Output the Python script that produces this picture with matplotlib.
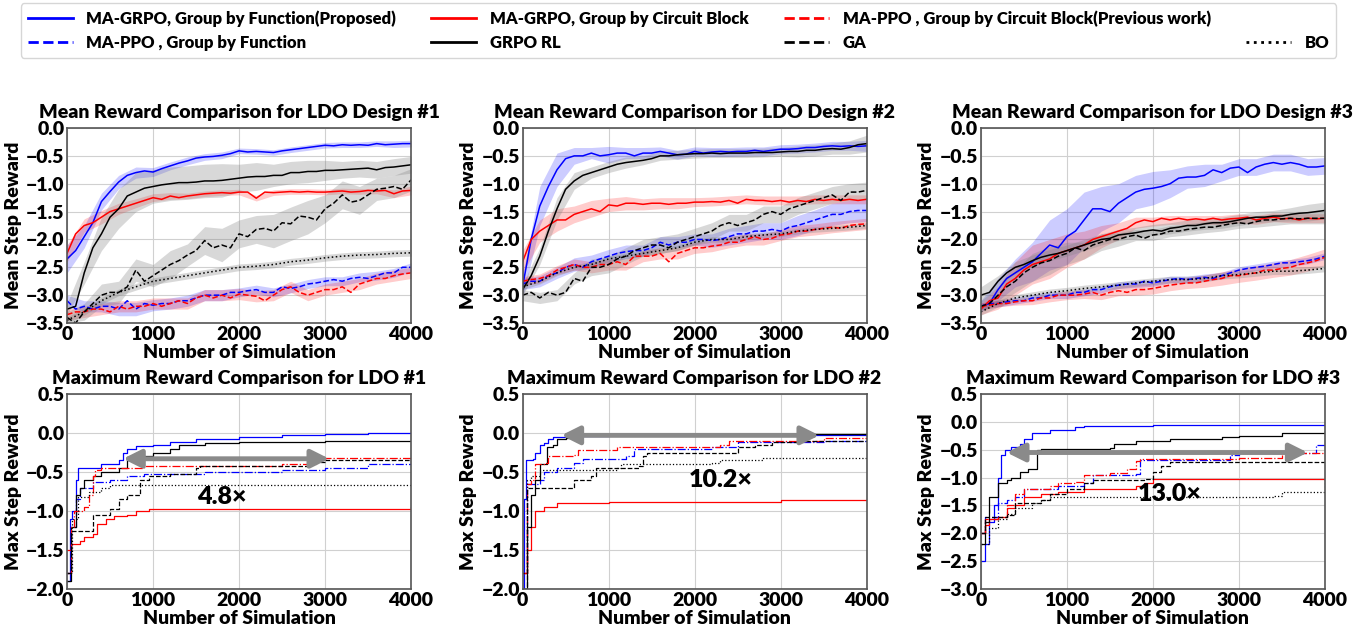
import matplotlib
matplotlib.use("Agg")
from matplotlib import pyplot as plt
from matplotlib.lines import Line2D

plt.rcParams['font.family'] = ['Lato', 'DejaVu Sans']
plt.rcParams['font.weight'] = 'heavy'
FW = 'heavy'

# x grids
x_mean = list(range(0, 4001, 100))
x_coarse = list(range(0, 4001, 200))   # BO curve and band half-widths

labels = ["MA-GRPO, Group by Function(Proposed)", "MA-PPO , Group by Function",
          "MA-GRPO, Group by Circuit Block", "GRPO RL",
          "MA-PPO , Group by Circuit Block(Previous work)", "GA", "BO"]

# ---------------- mean reward, LDO design #1 ----------------
m1_grpo_func = [-2.35, -2.2, -1.95, -1.7, -1.32, -1.14, -0.97, -0.85, -0.8, -0.77, -0.79, -0.73, -0.68, -0.63,
                -0.59, -0.54, -0.52, -0.51, -0.49, -0.46, -0.41, -0.43, -0.42, -0.43, -0.44, -0.41, -0.39, -0.37,
                -0.35, -0.33, -0.31, -0.32, -0.30, -0.31, -0.30, -0.31, -0.28, -0.30, -0.29, -0.28, -0.28]
m1_grpo_blk = [-2.25, -1.9, -1.75, -1.7, -1.6, -1.5, -1.45, -1.4, -1.35, -1.3, -1.25, -1.28, -1.22, -1.25,
               -1.22, -1.2, -1.18, -1.17, -1.16, -1.17, -1.15, -1.15, -1.26, -1.15, -1.16, -1.15, -1.14, -1.15,
               -1.14, -1.15, -1.15, -1.14, -1.13, -1.15, -1.14, -1.12, -1.13, -1.12, -1.18, -1.13, -1.12]
m1_grpo_rl = [-3.25, -3.2, -2.6, -2.15, -1.9, -1.6, -1.45, -1.22, -1.15, -1.08, -1.05, -1.02, -1.0, -0.98,
              -0.98, -0.97, -0.95, -0.95, -0.94, -0.92, -0.9, -0.88, -0.87, -0.87, -0.85, -0.85, -0.8, -0.8,
              -0.78, -0.78, -0.76, -0.76, -0.75, -0.74, -0.73, -0.72, -0.75, -0.71, -0.7, -0.68, -0.66]
m1_ga = [-3.4, -3.5, -3.3, -3.15, -3.0, -2.95, -2.95, -2.85, -2.55, -2.75, -2.65, -2.55, -2.45, -2.38,
         -2.28, -2.2, -2.02, -2.15, -2.1, -2.15, -1.9, -1.95, -1.82, -1.8, -1.85, -1.7, -1.72, -1.58,
         -1.6, -1.65, -1.45, -1.35, -1.2, -1.33, -1.3, -1.2, -1.1, -1.08, -1.05, -1.1, -0.93]
m1_ppo_func = [-3.1, -3.25, -3.2, -3.25, -3.2, -3.2, -3.25, -3.1, -3.25, -3.15, -3.18, -3.15, -3.15, -3.1,
               -3.1, -3.05, -3.0, -3.0, -3.0, -2.95, -2.95, -2.92, -2.9, -2.95, -2.95, -2.85, -2.88, -2.85,
               -2.8, -2.78, -2.75, -2.72, -2.75, -2.7, -2.68, -2.7, -2.65, -2.6, -2.6, -2.5, -2.5]
m1_ppo_blk = [-3.35, -3.3, -3.3, -3.25, -3.25, -3.3, -3.2, -3.25, -3.2, -3.2, -3.15, -3.2, -3.15, -3.1,
              -3.15, -3.05, -3.0, -3.05, -3.0, -3.05, -2.98, -3.0, -3.02, -3.1, -3.0, -2.9, -2.85, -2.95,
              -3.0, -2.95, -2.9, -2.9, -2.85, -2.95, -2.8, -2.75, -2.7, -2.7, -2.65, -2.62, -2.6]
m1_bo = [-3.45, -3.3, -3.1, -2.95, -2.85, -2.75, -2.7, -2.65, -2.6, -2.55, -2.5, -2.48, -2.45, -2.4,
         -2.37, -2.33, -2.3, -2.28, -2.27, -2.25, -2.24]

w1_grpo_func = [0.25, 0.2, 0.15, 0.12, 0.1, 0.08, 0.07, 0.07, 0.06, 0.06, 0.05, 0.05, 0.05, 0.05, 0.05, 0.05, 0.05, 0.05, 0.05, 0.06, 0.06]
w1_grpo_blk = [0.15, 0.12, 0.12, 0.1, 0.08, 0.07, 0.06, 0.05, 0.05, 0.05, 0.05, 0.05, 0.05, 0.05, 0.05, 0.05, 0.05, 0.05, 0.05, 0.07, 0.08]
w1_grpo_rl = [0.1, 0.2, 0.3, 0.35, 0.35, 0.3, 0.3, 0.3, 0.3, 0.3, 0.25, 0.25, 0.2, 0.2, 0.2, 0.18, 0.15, 0.15, 0.15, 0.15, 0.15]
w1_ga = [0.1, 0.15, 0.2, 0.2, 0.2, 0.2, 0.25, 0.2, 0.25, 0.3, 0.25, 0.25, 0.3, 0.3, 0.3, 0.25, 0.25, 0.25, 0.2, 0.2, 0.2]
w1_ppo_func = [0.1, 0.1, 0.1, 0.12, 0.12, 0.1, 0.1, 0.1, 0.1, 0.1, 0.08, 0.08, 0.08, 0.08, 0.08, 0.08, 0.08, 0.08, 0.08, 0.08, 0.08]
w1_ppo_blk = [0.1, 0.1, 0.1, 0.1, 0.1, 0.1, 0.1, 0.1, 0.1, 0.1, 0.1, 0.1, 0.1, 0.1, 0.1, 0.1, 0.1, 0.1, 0.1, 0.1, 0.1]
w1_bo = [0.06] * 21

# ---------------- mean reward, LDO design #2 ----------------
m2_grpo_func = [-2.85, -2.0, -1.4, -1.05, -0.75, -0.55, -0.5, -0.5, -0.45, -0.5, -0.48, -0.45, -0.45, -0.5,
                -0.45, -0.45, -0.42, -0.45, -0.48, -0.47, -0.42, -0.45, -0.43, -0.42, -0.43, -0.42, -0.42, -0.4,
                -0.42, -0.4, -0.38, -0.38, -0.37, -0.35, -0.35, -0.33, -0.32, -0.33, -0.32, -0.33, -0.32]
m2_grpo_blk = [-2.4, -2.0, -1.85, -1.75, -1.65, -1.65, -1.55, -1.5, -1.45, -1.5, -1.38, -1.4, -1.35, -1.35,
               -1.37, -1.35, -1.35, -1.37, -1.35, -1.35, -1.33, -1.33, -1.32, -1.33, -1.3, -1.35, -1.28, -1.3,
               -1.3, -1.32, -1.3, -1.33, -1.3, -1.32, -1.28, -1.3, -1.28, -1.3, -1.28, -1.3, -1.28]
m2_grpo_rl = [-2.9, -2.65, -2.3, -1.85, -1.45, -1.1, -0.95, -0.85, -0.8, -0.75, -0.7, -0.65, -0.62, -0.6,
              -0.58, -0.55, -0.5, -0.5, -0.48, -0.47, -0.46, -0.46, -0.45, -0.46, -0.45, -0.45, -0.45, -0.44,
              -0.44, -0.44, -0.43, -0.42, -0.42, -0.4, -0.4, -0.38, -0.37, -0.38, -0.35, -0.3, -0.28]
m2_ga = [-3.0, -2.95, -3.05, -2.95, -3.0, -2.95, -2.7, -2.75, -2.5, -2.5, -2.45, -2.35, -2.3, -2.2,
         -2.15, -2.1, -2.1, -2.15, -2.05, -2.0, -1.95, -1.9, -1.85, -1.75, -1.7, -1.75, -1.7, -1.65,
         -1.55, -1.5, -1.55, -1.45, -1.4, -1.35, -1.3, -1.25, -1.2, -1.3, -1.15, -1.15, -1.12]
m2_ppo_func = [-2.8, -2.75, -2.75, -2.65, -2.6, -2.5, -2.45, -2.5, -2.4, -2.35, -2.3, -2.25, -2.22, -2.2,
               -2.2, -2.15, -2.05, -2.1, -2.05, -2.05, -2.0, -2.0, -2.02, -2.0, -1.95, -1.9, -1.9, -1.85,
               -1.85, -1.82, -1.85, -1.78, -1.75, -1.7, -1.65, -1.6, -1.55, -1.55, -1.5, -1.48, -1.48]
m2_ppo_blk = [-2.75, -2.72, -2.7, -2.65, -2.55, -2.5, -2.45, -2.5, -2.5, -2.45, -2.45, -2.4, -2.45, -2.3,
              -2.3, -2.3, -2.25, -2.4, -2.25, -2.2, -2.15, -2.15, -2.12, -2.1, -2.05, -2.05, -2.0, -1.95,
              -2.0, -1.98, -1.92, -1.9, -1.85, -1.85, -1.82, -1.8, -1.78, -1.8, -1.75, -1.73, -1.72]
m2_bo = [-2.85, -2.75, -2.6, -2.5, -2.45, -2.35, -2.3, -2.25, -2.2, -2.15, -2.05, -2.0, -2.0, -1.95,
         -1.92, -1.9, -1.85, -1.82, -1.8, -1.78, -1.75]

w2_grpo_func = [0.2, 0.35, 0.3, 0.15, 0.1, 0.15, 0.1, 0.1, 0.08, 0.08, 0.08, 0.08, 0.08, 0.08, 0.08, 0.08, 0.08, 0.08, 0.08, 0.08, 0.1]
w2_grpo_blk = [0.2, 0.2, 0.2, 0.15, 0.15, 0.12, 0.12, 0.1, 0.1, 0.1, 0.08, 0.08, 0.08, 0.08, 0.08, 0.08, 0.08, 0.08, 0.08, 0.08, 0.08]
w2_grpo_rl = [0.1, 0.15, 0.2, 0.15, 0.1, 0.1, 0.1, 0.08, 0.08, 0.08, 0.08, 0.08, 0.08, 0.08, 0.08, 0.08, 0.1, 0.1, 0.1, 0.12, 0.15]
w2_ga = [0.1, 0.1, 0.1, 0.1, 0.15, 0.15, 0.15, 0.15, 0.15, 0.15, 0.15, 0.15, 0.15, 0.15, 0.15, 0.15, 0.15, 0.15, 0.15, 0.15, 0.15]
w2_ppo_func = [0.1, 0.1, 0.1, 0.12, 0.12, 0.12, 0.12, 0.1, 0.1, 0.1, 0.1, 0.12, 0.15, 0.15, 0.15, 0.15, 0.18, 0.18, 0.2, 0.2, 0.2]
w2_ppo_blk = [0.08, 0.08, 0.08, 0.1, 0.1, 0.1, 0.1, 0.1, 0.1, 0.1, 0.1, 0.1, 0.1, 0.1, 0.1, 0.1, 0.1, 0.1, 0.1, 0.1, 0.1]
w2_bo = [0.05] * 21

# ---------------- mean reward, LDO design #3 ----------------
m3_grpo_func = [-3.2, -3.15, -2.9, -2.7, -2.6, -2.5, -2.4, -2.25, -2.1, -2.15, -1.95, -1.85, -1.65, -1.45,
                -1.45, -1.5, -1.35, -1.25, -1.15, -1.1, -1.08, -1.05, -1.0, -0.9, -0.88, -0.88, -0.85, -0.75,
                -0.8, -0.72, -0.7, -0.8, -0.7, -0.65, -0.62, -0.65, -0.62, -0.65, -0.7, -0.7, -0.68]
m3_grpo_blk = [-3.25, -3.1, -3.05, -2.8, -2.7, -2.55, -2.45, -2.4, -2.35, -2.25, -2.2, -2.15, -2.1, -2.0,
               -1.95, -1.9, -1.85, -1.8, -1.7, -1.65, -1.68, -1.62, -1.65, -1.62, -1.65, -1.63, -1.65, -1.62,
               -1.65, -1.63, -1.62, -1.6, -1.65, -1.62, -1.6, -1.63, -1.62, -1.65, -1.62, -1.63, -1.62]
m3_grpo_rl = [-3.0, -2.95, -2.75, -2.6, -2.5, -2.45, -2.38, -2.32, -2.28, -2.25, -2.2, -2.15, -2.1, -2.05,
              -2.0, -1.98, -1.92, -1.9, -1.88, -1.85, -1.83, -1.85, -1.8, -1.78, -1.75, -1.75, -1.72, -1.7,
              -1.7, -1.68, -1.65, -1.62, -1.6, -1.6, -1.58, -1.58, -1.55, -1.53, -1.52, -1.5, -1.48]
m3_ga = [-3.2, -3.15, -3.0, -2.85, -2.75, -2.6, -2.5, -2.42, -2.38, -2.3, -2.25, -2.15, -2.2, -2.1,
         -2.05, -2.0, -2.0, -1.95, -1.92, -1.98, -1.92, -1.9, -1.85, -1.85, -1.82, -1.8, -1.78, -1.78,
         -1.75, -1.72, -1.7, -1.72, -1.68, -1.65, -1.65, -1.63, -1.62, -1.63, -1.62, -1.62, -1.62]
m3_ppo_func = [-3.2, -3.15, -3.15, -3.12, -3.1, -3.1, -3.05, -3.05, -3.0, -3.0, -3.0, -2.95, -2.95, -2.9,
               -2.9, -2.85, -2.82, -2.8, -2.8, -2.75, -2.78, -2.75, -2.72, -2.7, -2.72, -2.7, -2.68, -2.7,
               -2.65, -2.6, -2.55, -2.52, -2.5, -2.48, -2.45, -2.42, -2.42, -2.4, -2.38, -2.35, -2.3]
m3_ppo_blk = [-3.2, -3.18, -3.15, -3.15, -3.12, -3.1, -3.1, -3.05, -3.05, -3.0, -3.0, -3.0, -2.98, -2.95,
              -3.0, -2.95, -2.92, -2.95, -2.9, -2.9, -2.88, -2.85, -2.82, -2.8, -2.78, -2.78, -2.75, -2.72,
              -2.7, -2.65, -2.65, -2.62, -2.6, -2.55, -2.55, -2.52, -2.5, -2.45, -2.42, -2.38, -2.32]
m3_bo = [-3.3, -3.15, -3.05, -3.0, -2.95, -2.92, -2.88, -2.85, -2.82, -2.78, -2.75, -2.72, -2.72, -2.7,
         -2.65, -2.63, -2.6, -2.57, -2.57, -2.55, -2.52]

w3_grpo_func = [0.1, 0.2, 0.25, 0.35, 0.45, 0.5, 0.5, 0.4, 0.35, 0.3, 0.3, 0.25, 0.2, 0.2, 0.15, 0.15, 0.15, 0.15, 0.15, 0.15, 0.15]
w3_grpo_blk = [0.1, 0.2, 0.3, 0.35, 0.35, 0.3, 0.25, 0.2, 0.15, 0.1, 0.08, 0.08, 0.08, 0.08, 0.08, 0.08, 0.08, 0.08, 0.08, 0.08, 0.08]
w3_grpo_rl = [0.15, 0.1, 0.1, 0.1, 0.1, 0.1, 0.1, 0.1, 0.1, 0.1, 0.1, 0.1, 0.1, 0.1, 0.1, 0.1, 0.1, 0.1, 0.12, 0.15, 0.15]
w3_ga = [0.1, 0.15, 0.2, 0.25, 0.25, 0.2, 0.15, 0.15, 0.12, 0.1, 0.1, 0.1, 0.1, 0.1, 0.1, 0.1, 0.1, 0.1, 0.1, 0.1, 0.1]
w3_ppo_func = [0.06] * 21
w3_ppo_blk = [0.06, 0.06, 0.06, 0.07, 0.07, 0.08, 0.08, 0.08, 0.09, 0.1, 0.1, 0.1, 0.1, 0.11, 0.12, 0.12, 0.13, 0.13, 0.14, 0.15, 0.15]
w3_bo = [0.06] * 21

# ---------------- max reward (best so far), step points ----------------
max1_grpo_func = [(0, -1.9), (30, -1.1), (60, -1.0), (100, -0.6), (130, -0.45), (400, -0.4), (600, -0.35), (650, -0.25),
                  (700, -0.2), (800, -0.17), (1000, -0.15), (1200, -0.12), (1500, -0.08), (2000, -0.05), (2500, -0.02),
                  (3000, -0.01), (3500, 0.0), (4000, 0.01)]
max1_grpo_rl = [(0, -1.9), (50, -1.2), (100, -0.8), (150, -0.7), (200, -0.6), (300, -0.55), (400, -0.5), (600, -0.45),
                (700, -0.35), (800, -0.3), (1000, -0.25), (1200, -0.2), (1300, -0.15), (1600, -0.13), (2000, -0.12),
                (2500, -0.11), (3000, -0.1), (4000, -0.09)]
max1_grpo_blk = [(0, -1.5), (50, -1.42), (150, -1.38), (200, -1.33), (300, -1.3), (350, -1.17), (450, -1.1), (550, -1.07),
                 (700, -1.05), (800, -1.0), (950, -0.98), (2000, -0.98), (4000, -0.95)]
max1_ppo_blk = [(0, -1.8), (50, -1.2), (80, -1.0), (200, -0.95), (250, -0.8), (300, -0.55), (330, -0.47), (400, -0.45),
                (900, -0.42), (2500, -0.4), (2900, -0.35), (3000, -0.32), (4000, -0.31)]
max1_ppo_func = [(0, -1.8), (50, -1.2), (100, -0.85), (150, -0.7), (300, -0.63), (500, -0.6), (700, -0.55), (900, -0.52),
                 (1600, -0.5), (2500, -0.47), (3000, -0.45), (3500, -0.4), (4000, -0.35)]
max1_ga = [(0, -1.8), (50, -1.25), (250, -1.25), (300, -1.05), (500, -0.98), (600, -0.85), (700, -0.8), (850, -0.6),
           (950, -0.55), (1200, -0.52), (1500, -0.45), (1550, -0.42), (2700, -0.42), (2800, -0.37), (3000, -0.35),
           (4000, -0.32)]
max1_bo = [(0, -1.8), (60, -1.1), (130, -0.82), (260, -0.75), (400, -0.7), (500, -0.67), (4000, -0.67)]

max2_grpo_func = [(0, -2.0), (20, -0.85), (40, -0.35), (120, -0.33), (150, -0.25), (200, -0.15), (250, -0.13), (300, -0.08),
                  (350, -0.05), (500, -0.04), (1000, -0.03), (2000, -0.02), (4000, -0.01)]
max2_grpo_rl = [(0, -2.0), (50, -1.2), (100, -0.8), (150, -0.6), (200, -0.4), (280, -0.18), (350, -0.15), (400, -0.08),
                (500, -0.06), (600, -0.03), (1000, -0.02), (2000, -0.01), (4000, 0.0)]
max2_grpo_blk = [(0, -1.8), (50, -1.5), (100, -1.2), (150, -1.0), (250, -0.95), (400, -0.9), (1000, -0.89), (2000, -0.88),
                 (3000, -0.86), (4000, -0.84)]
max2_ppo_blk = [(0, -1.8), (50, -0.65), (100, -0.6), (150, -0.4), (250, -0.38), (300, -0.3), (600, -0.28), (650, -0.22),
                (1100, -0.18), (2300, -0.15), (2400, -0.1), (3500, -0.07), (4000, -0.06)]
max2_ppo_func = [(0, -1.8), (50, -0.65), (200, -0.6), (250, -0.5), (400, -0.45), (600, -0.38), (700, -0.33), (1200, -0.3),
                 (1300, -0.2), (2200, -0.18), (2500, -0.12), (3500, -0.1), (4000, -0.1)]
max2_ga = [(0, -2.0), (50, -0.7), (550, -0.7), (600, -0.6), (800, -0.55), (850, -0.45), (1350, -0.42), (1400, -0.3),
           (1450, -0.25), (2200, -0.25), (2500, -0.18), (2700, -0.15), (2900, -0.12), (3200, -0.1), (4000, -0.08)]
max2_bo = [(0, -1.8), (50, -0.6), (100, -0.55), (200, -0.47), (1100, -0.45), (1150, -0.4), (2200, -0.38), (2300, -0.35),
           (2800, -0.32), (4000, -0.32)]

max3_grpo_func = [(0, -2.5), (50, -2.2), (100, -1.8), (150, -1.5), (200, -1.0), (230, -0.6), (280, -0.5), (350, -0.45),
                  (450, -0.4), (500, -0.3), (600, -0.2), (800, -0.15), (1100, -0.1), (1200, -0.07), (2000, -0.05),
                  (3000, -0.05), (4000, -0.03)]
max3_grpo_rl = [(0, -2.2), (50, -1.8), (100, -1.35), (200, -1.1), (300, -1.05), (350, -1.0), (450, -0.9), (550, -0.85),
                (650, -0.5), (700, -0.48), (1500, -0.47), (1550, -0.4), (1800, -0.35), (2200, -0.3), (2800, -0.27),
                (3000, -0.25), (3500, -0.2), (4000, -0.17)]
max3_grpo_blk = [(0, -2.0), (50, -1.85), (100, -1.75), (200, -1.7), (300, -1.55), (400, -1.5), (500, -1.35), (700, -1.3),
                 (900, -1.25), (1200, -1.2), (1800, -1.15), (1900, -1.1), (2000, -1.02), (2200, -1.02), (4000, -1.0)]
max3_ppo_blk = [(0, -2.0), (50, -1.75), (200, -1.7), (300, -1.5), (400, -1.3), (500, -1.2), (800, -1.15), (900, -1.1),
                (1100, -1.08), (1200, -0.95), (1500, -0.92), (1700, -0.85), (1800, -0.7), (1850, -0.67), (3000, -0.65),
                (3500, -0.55), (4000, -0.55)]
max3_ppo_func = [(0, -2.0), (50, -1.7), (200, -1.45), (300, -1.4), (400, -1.35), (500, -1.2), (700, -1.2), (900, -1.15),
                 (1200, -1.1), (1300, -0.95), (1800, -0.93), (1850, -0.68), (2900, -0.6), (3000, -0.55), (3800, -0.55),
                 (3900, -0.42), (4000, -0.42)]
max3_ga = [(0, -2.0), (50, -1.7), (300, -1.68), (400, -1.45), (700, -1.4), (800, -1.3), (1000, -1.2), (1200, -1.1),
           (1300, -1.05), (1900, -1.02), (2000, -0.9), (2100, -0.8), (2200, -0.72), (4000, -0.7)]
max3_bo = [(0, -2.2), (100, -1.9), (200, -1.75), (300, -1.65), (400, -1.55), (600, -1.45), (700, -1.4), (800, -1.35),
           (2200, -1.35), (3400, -1.33), (3500, -1.25), (3900, -1.25), (4000, -1.02)]

# speed-up arrows: (x_start, x_end, y) and label (text, x, y)
arrows = [(650, 3050, -0.33), (450, 3450, -0.03), (300, 3800, -0.55)]
speedups = [("4.8×", 1800, -0.82), ("10.2×", 2300, -0.6), ("13.0×", 2200, -1.3)]
max_ylims = [(-2.0, 0.5), (-2.0, 0.5), (-3.0, 0.5)]

keys = ["grpo_func", "ppo_func", "grpo_blk", "grpo_rl", "ppo_blk", "ga", "bo"]
colors = {"grpo_func": "blue", "ppo_func": "blue", "grpo_blk": "red", "grpo_rl": "black",
          "ppo_blk": "red", "ga": "black", "bo": "black"}
top_ls = {"grpo_func": "-", "ppo_func": "--", "grpo_blk": "-", "grpo_rl": "-",
          "ppo_blk": "--", "ga": "--", "bo": ":"}
bot_ls = {"grpo_func": "-", "ppo_func": "-.", "grpo_blk": "-", "grpo_rl": "-",
          "ppo_blk": "-.", "ga": "--", "bo": ":"}
band_col = {"blue": ("blue", 0.2), "red": ("red", 0.2), "black": ("gray", 0.3)}

g = globals()
fig = plt.figure(figsize=(13.68, 6.35), dpi=100)

lefts = [0.049, 0.382, 0.717]
W = 0.2515
for i in range(3):
    d = i + 1
    ax = fig.add_axes([lefts[i], 0.4913, W, 0.3071])
    for k in keys:
        y = g[f"m{d}_{k}"]
        w = g[f"w{d}_{k}"]
        xs = x_coarse if k == "bo" else x_mean
        yc = y if k == "bo" else y[::2]
        bc, ba = band_col[colors[k]]
        ax.fill_between(x_coarse, [a - b for a, b in zip(yc, w)], [a + b for a, b in zip(yc, w)],
                        color=bc, alpha=ba, lw=0)
        ax.plot(xs, y, color=colors[k], ls=top_ls[k], lw=1.1)
    ax.set_xlim(0, 4000)
    ax.set_ylim(-3.5, 0.0)
    ax.set_yticks([0.0, -0.5, -1.0, -1.5, -2.0, -2.5, -3.0, -3.5])
    ax.set_title(f"Mean Reward Comparison for LDO Design #{d}", fontsize=14, fontweight=FW, pad=7)
    ax.set_ylabel("Mean Step Reward", fontsize=14, fontweight=FW, labelpad=3)
    ax.set_xlabel("Number of Simulation", fontsize=14, fontweight=FW, labelpad=1)

    bx = fig.add_axes([lefts[i], 0.0724, W, 0.3071])
    for k in keys:
        pts = g[f"max{d}_{k}"]
        bx.plot([p[0] for p in pts], [p[1] for p in pts], color=colors[k], ls=bot_ls[k],
                lw=0.9, drawstyle='steps-post')
    x0, x1, ya = arrows[i]
    bx.annotate("", xy=(x1, ya), xytext=(x0, ya),
                arrowprops=dict(arrowstyle='<|-|>,head_length=0.6,head_width=0.3', color='#8a8a8a',
                                lw=3.5, mutation_scale=18, shrinkA=0, shrinkB=0))
    t, tx, ty = speedups[i]
    bx.text(tx, ty, t, fontsize=18, fontweight=FW, ha='center', va='center')
    bx.set_xlim(0, 4000)
    lo, hi = max_ylims[i]
    bx.set_ylim(lo, hi)
    bx.set_yticks([v * 0.5 for v in range(int(hi * 2), int(lo * 2) - 1, -1)])
    bx.set_title(f"Maximum Reward Comparison for LDO #{d}", fontsize=14, fontweight=FW, pad=7)
    bx.set_ylabel("Max Step Reward", fontsize=14, fontweight=FW, labelpad=3)
    bx.set_xlabel("Number of Simulation", fontsize=14, fontweight=FW, labelpad=1)

    for a in (ax, bx):
        a.set_xticks([0, 1000, 2000, 3000, 4000])
        a.grid(True, color='#d0d0d0', lw=0.8)
        a.set_axisbelow(True)
        a.tick_params(labelsize=14, length=0, pad=2)
        for lab in a.get_xticklabels() + a.get_yticklabels():
            lab.set_fontweight(FW)
        for s in a.spines.values():
            s.set_color('#555555')
            s.set_linewidth(1.2)

handles = [Line2D([], [], color=colors[k], ls=top_ls[k], lw=2) for k in keys]
leg_h = handles[:6] + [Line2D([], [], color='none')] + handles[6:]
leg_l = labels[:6] + [""] + labels[6:]
fig.legend(leg_h, leg_l, loc='center', ncol=4, mode='expand',
           bbox_to_anchor=(21 / 1368, 1 - 58 / 635, 1315 / 1368, 55 / 635),
           prop={'weight': FW, 'size': 12}, handlelength=2.7, frameon=True,
           edgecolor='#cccccc', fancybox=True, borderaxespad=0, labelspacing=0.5)

fig.savefig("out.png", dpi=100)
